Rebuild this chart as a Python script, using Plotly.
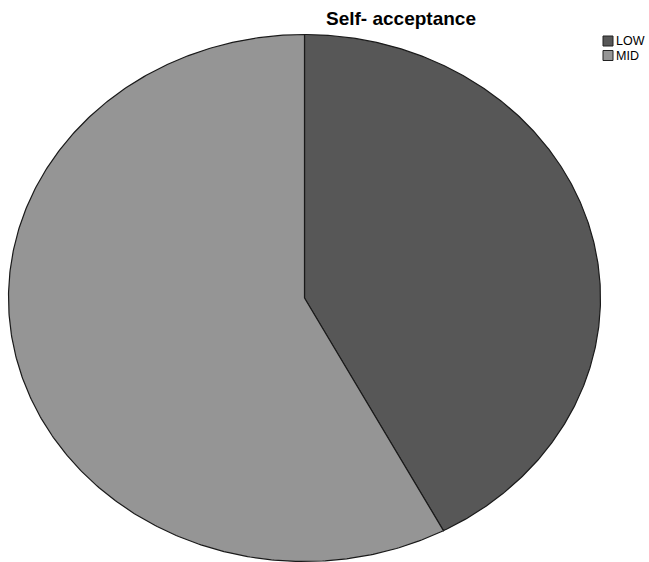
import numpy as np
import plotly.graph_objects as go

# Self-acceptance groups and their counts
categories = ["LOW", "MID"]
counts = [19, 26]
colors = ["#575757", "#959595"]

title_text = "Self- acceptance"

W, H = 649, 562
cx_px, cy_px = 304.5, 298.0     # pie centre in pixels
rx_px, ry_px = 296.0, 263.5     # horizontal / vertical radius in pixels

# axis ranges so that the unit circle maps onto the stretched pie
x0 = -cx_px / rx_px
x1 = x0 + W / rx_px
y1 = cy_px / ry_px
y0 = y1 - H / ry_px

fig = go.Figure()

total = float(sum(counts))
start = 0.0  # clockwise from 12 o'clock
for name, val, col in zip(categories, counts, colors):
    frac = val / total
    theta = np.linspace(start, start + frac * 2 * np.pi, 400)
    xs = np.concatenate([[0.0], np.sin(theta), [0.0]])
    ys = np.concatenate([[0.0], np.cos(theta), [0.0]])
    fig.add_trace(go.Scatter(
        x=xs, y=ys, mode="lines", fill="toself", fillcolor=col,
        line=dict(color="#1a1a1a", width=1.2), name=name,
        showlegend=False, hoverinfo="name",
    ))
    start += frac * 2 * np.pi

# legend: small square swatches with labels at the upper right
for i, (name, col) in enumerate(zip(categories, colors)):
    ytop = 36 + i * 14.5
    fig.add_shape(type="rect", xref="paper", yref="paper",
                  x0=603 / W, x1=613 / W,
                  y0=1 - (ytop + 10) / H, y1=1 - ytop / H,
                  fillcolor=col, line=dict(color="#222222", width=1))
    fig.add_annotation(text=name, xref="paper", yref="paper",
                       x=614 / W, y=1 - (ytop + 5.5) / H,
                       xanchor="left", yanchor="middle", showarrow=False,
                       font=dict(family="Liberation Sans, Arial", size=12.5, color="#000000"))

fig.add_annotation(text="<b>" + title_text + "</b>", xref="paper", yref="paper",
                   x=401 / W, y=1 - 18 / H, xanchor="center", yanchor="middle",
                   showarrow=False,
                   font=dict(family="Liberation Sans, Arial", size=19, color="#000000"))

fig.update_xaxes(range=[x0, x1], visible=False, fixedrange=True)
fig.update_yaxes(range=[y0, y1], visible=False, fixedrange=True)
fig.update_layout(
    width=W, height=H,
    margin=dict(l=0, r=0, t=0, b=0),
    paper_bgcolor="white", plot_bgcolor="white",
    showlegend=False,
)

fig.write_html("out.html")
